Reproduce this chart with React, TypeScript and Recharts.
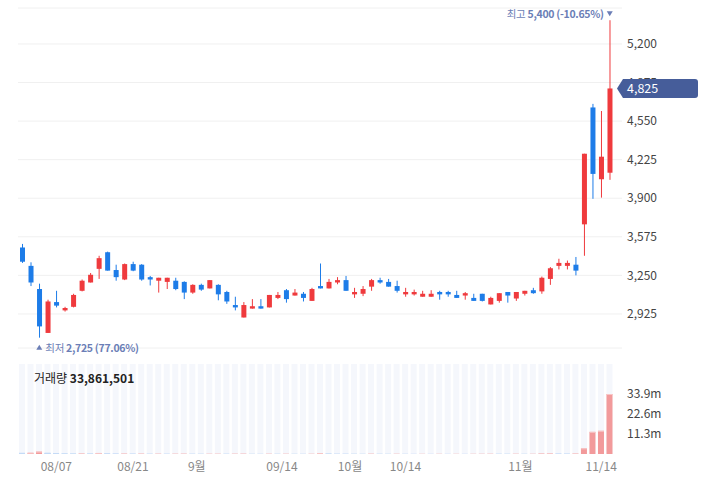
import { Bar, BarChart, CartesianGrid, ComposedChart, ReferenceDot, ReferenceLine, XAxis, YAxis } from "recharts";

// trading days 2024-08-01 .. 2024-11-15 (KRX)
const DATES = [
  "08/01", "08/02", "08/05", "08/06", "08/07", "08/08", "08/09", "08/12", "08/13", "08/14",
  "08/16", "08/19", "08/20", "08/21", "08/22", "08/23", "08/26", "08/27", "08/28", "08/29",
  "08/30", "09/02", "09/03", "09/04", "09/05", "09/06", "09/09", "09/10", "09/11", "09/12",
  "09/13", "09/19", "09/20", "09/23", "09/24", "09/25", "09/26", "09/27", "09/30", "10/02",
  "10/04", "10/07", "10/08", "10/10", "10/11", "10/14", "10/15", "10/16", "10/17", "10/18",
  "10/21", "10/22", "10/23", "10/24", "10/25", "10/28", "10/29", "10/30", "10/31", "11/01",
  "11/04", "11/05", "11/06", "11/07", "11/08", "11/11", "11/12", "11/13", "11/14", "11/15",
];

const OPEN = [
  3485, 3330, 3135, 2765, 3025, 2955, 2985, 3120, 3190, 3305,
  3445, 3295, 3215, 3345, 3340, 3235, 3205, 3195, 3205, 3195,
  3105, 3170, 3140, 3170, 3110, 3000, 2895, 2970, 2990, 2980,
  3060, 3125, 3080, 3095, 3035, 3160, 3140, 3190, 3210, 3090,
  3095, 3155, 3210, 3195, 3160, 3090, 3090, 3070, 3070, 3110,
  3110, 3085, 3080, 3060, 3095, 3005, 3035, 3110, 3055, 3095,
  3125, 3115, 3220, 3330, 3330, 3340, 3680, 4665, 4060, 4115,
];
const HIGH = [
  3515, 3360, 3180, 3045, 3120, 2985, 3095, 3215, 3270, 3415,
  3450, 3340, 3350, 3365, 3345, 3245, 3230, 3230, 3230, 3200,
  3175, 3180, 3210, 3175, 3120, 3070, 3025, 3050, 3050, 3085,
  3110, 3135, 3135, 3110, 3145, 3350, 3220, 3235, 3245, 3145,
  3160, 3220, 3230, 3220, 3205, 3145, 3130, 3120, 3125, 3120,
  3120, 3120, 3110, 3095, 3095, 3070, 3100, 3110, 3110, 3120,
  3145, 3240, 3320, 3390, 3375, 3405, 4275, 4695, 4635, 5400,
];
const LOW = [
  3355, 3160, 2725, 2765, 2980, 2945, 2980, 3115, 3190, 3220,
  3290, 3205, 3210, 3285, 3205, 3165, 3105, 3135, 3125, 3050,
  3095, 3120, 3140, 3040, 3010, 2955, 2895, 2970, 2970, 2980,
  3050, 3020, 3080, 3030, 3035, 3140, 3140, 3175, 3120, 3060,
  3075, 3120, 3180, 3155, 3105, 3070, 3080, 3070, 3070, 3045,
  3070, 3060, 3045, 3035, 3030, 3005, 3020, 3020, 3035, 3080,
  3095, 3095, 3170, 3300, 3300, 3250, 3415, 3895, 3905, 4055,
];
const CLOSE = [
  3365, 3190, 2820, 3030, 2995, 2975, 3085, 3205, 3255, 3395,
  3290, 3235, 3345, 3290, 3215, 3215, 3230, 3230, 3135, 3105,
  3170, 3130, 3210, 3090, 3030, 2980, 3000, 2990, 2970, 3085,
  3085, 3050, 3105, 3060, 3135, 3140, 3195, 3210, 3120, 3110,
  3135, 3210, 3190, 3155, 3120, 3110, 3110, 3095, 3095, 3090,
  3090, 3060, 3100, 3035, 3035, 3060, 3100, 3080, 3110, 3120,
  3100, 3230, 3310, 3355, 3355, 3290, 4275, 4105, 4250, 4825,
];
const VOLUME = [
  620000, 680000, 1350000, 640000, 520000, 240000, 200000, 230000, 210000, 580000,
  260000, 180000, 190000, 150000, 170000, 120000, 140000, 110000, 130000, 150000,
  100000, 90000, 110000, 120000, 100000, 130000, 150000, 80000, 70000, 120000,
  90000, 110000, 80000, 70000, 100000, 560000, 200000, 120000, 110000, 90000,
  80000, 130000, 90000, 80000, 100000, 70000, 60000, 70000, 60000, 80000,
  60000, 70000, 60000, 80000, 90000, 110000, 100000, 90000, 110000, 80000,
  90000, 230000, 260000, 180000, 150000, 210000, 3200000, 12500000, 13100000, 33861501,
];

const PRICE_TICKS = [2925, 3250, 3575, 3900, 4225, 4550, 4875, 5200];
const X_TICK_DATES = ["08/07", "08/21", "09/01", "09/14", "10/01", "10/14", "11/01", "11/14"];
const X_TICK_LABELS = ["08/07", "08/21", "9월", "09/14", "10월", "10/14", "11월", "11/14"];

const UP = "#ef3a3d";
const DOWN = "#1d7ce8";
const VOL_UP = "#f29a9b";
const VOL_UP_CAP = "#f8c6c6";
const VOL_DOWN = "#9ec5f1";
const VOL_DOWN_CAP = "#c8ddf7";
const MARK = "#6b7eb6";

const rows = DATES.map((date, i) => ({
  i,
  date,
  open: OPEN[i],
  close: CLOSE[i],
  range: [LOW[i], HIGH[i]],
  volume: VOLUME[i],
}));

const LAST = DATES.length - 1;
const LAST_CLOSE = CLOSE[LAST];
const HIGH_MAX = Math.max(...HIGH);
const LOW_MIN = Math.min(...LOW);
const HIGH_IDX = HIGH.indexOf(HIGH_MAX);
const LOW_IDX = LOW.indexOf(LOW_MIN);
const VOL_MAX = Math.max(...VOLUME);
const PRICE_DOMAIN = [LOW_MIN - 87, HIGH_MAX + 103];
const X_DOMAIN = [-0.5, LAST + 0.5];

// month labels sit on the boundary between months, other dates on their own candle
const X_TICK_POS = X_TICK_DATES.map((d, k) => {
  const next = DATES.findIndex((x) => x >= d);
  const isMonth = X_TICK_LABELS[k].endsWith("월");
  return DATES[next] === d && !isMonth ? next : next - 0.5;
});

const fmt = (v: number) => v.toLocaleString("en-US");

function Candle(props: any) {
  const { x, y, width, height, index } = props;
  const o = OPEN[index];
  const c = CLOSE[index];
  const h = HIGH[index];
  const l = LOW[index];
  const top = Math.min(y, y + height);
  const span = Math.abs(height);
  const k = span / (h - l || 1);
  const yOf = (v: number) => top + (h - v) * k;
  const bodyTop = yOf(Math.max(o, c));
  const bodyBot = yOf(Math.min(o, c));
  const color = c >= o ? UP : DOWN;
  const cx = x + width / 2;
  return (
    <g>
      <line x1={cx} x2={cx} y1={top} y2={top + span} stroke={color} strokeWidth={1} />
      <rect x={x} y={bodyTop} width={width} height={Math.max(1, bodyBot - bodyTop)} fill={color} />
    </g>
  );
}

function VolumeBar(props: any) {
  const { x, y, width, height, index } = props;
  if (!(height > 0)) return null;
  const up = index === 0 ? CLOSE[0] >= OPEN[0] : VOLUME[index] >= VOLUME[index - 1];
  return (
    <g>
      <rect x={x} y={y} width={width} height={height} fill={up ? VOL_UP : VOL_DOWN} />
      <rect x={x} y={y} width={width} height={Math.min(1, height)} fill={up ? VOL_UP_CAP : VOL_DOWN_CAP} />
    </g>
  );
}

function HighMark(props: any) {
  const { cx, cy } = props;
  const pct = ((LAST_CLOSE / HIGH_MAX - 1) * 100).toFixed(2);
  return (
    <g>
      <text x={cx - 6} y={cy - 2.5} textAnchor="end" fontSize={10.5} letterSpacing={-0.3} fill={MARK}>
        <tspan>최고 </tspan>
        <tspan fontWeight="bold">{fmt(HIGH_MAX)} ({pct}%)</tspan>
      </text>
      <path d={`M${cx - 3},${cy - 9} L${cx + 3},${cy - 9} L${cx},${cy - 4} Z`} fill={MARK} />
    </g>
  );
}

function LowMark(props: any) {
  const { cx, cy } = props;
  const pct = ((LAST_CLOSE / LOW_MIN - 1) * 100).toFixed(2);
  return (
    <g>
      <path d={`M${cx - 3},${cy + 12} L${cx + 3},${cy + 12} L${cx},${cy + 7} Z`} fill={MARK} />
      <text x={cx + 6} y={cy + 14} textAnchor="start" fontSize={10.5} letterSpacing={-0.3} fill={MARK}>
        <tspan>최저 </tspan>
        <tspan fontWeight="bold">{fmt(LOW_MIN)} ({pct}%)</tspan>
      </text>
    </g>
  );
}

function PriceBadge(props: any) {
  const { viewBox } = props;
  const right = viewBox.x + viewBox.width;
  const y = viewBox.y;
  const h = 9.5;
  const w = 76;
  const r = 3;
  const d = `M${right - 5},${y} L${right + 1},${y - h} L${right + w - r},${y - h} Q${right + w},${y - h} ${right + w},${y - h + r} L${right + w},${y + h - r} Q${right + w},${y + h} ${right + w - r},${y + h} L${right + 1},${y + h} Z`;
  return (
    <g>
      <path d={d} fill="#465d9a" />
      <text x={right + 5} y={y + 4.5} fontSize={12.5} fill="#fff">
        {fmt(LAST_CLOSE)}
      </text>
    </g>
  );
}

const PRICE_MARGIN = { top: 8, right: 0, bottom: 12, left: 18 };

export default function App() {
  return (
    <div
      style={{
        position: "absolute",
        left: 0,
        top: 0,
        width: 705,
        height: 482,
        background: "#fff",
        fontFamily: "'Noto Sans CJK KR', 'Noto Sans', sans-serif",
      }}
    >
      <div style={{ position: "absolute", left: 0, top: 0 }}>
        <ComposedChart width={705} height={360} data={rows} margin={PRICE_MARGIN}>
          <CartesianGrid vertical={false} stroke="#f0f0f0" />
          <XAxis dataKey="i" type="number" domain={X_DOMAIN} padding={{ left: 0, right: 8 }} allowDataOverflow hide />
          <YAxis
            orientation="right"
            width={83}
            domain={PRICE_DOMAIN}
            ticks={PRICE_TICKS}
            tickFormatter={fmt}
            allowDataOverflow
            axisLine={false}
            tickLine={false}
            tickSize={3}
            tickMargin={2}
            tick={{ fontSize: 12, fill: "#444" }}
          />
          <Bar dataKey="range" barSize={5} shape={Candle} isAnimationActive={false} />
          <ReferenceDot x={HIGH_IDX} y={HIGH_MAX} r={0} shape={HighMark} />
          <ReferenceDot x={LOW_IDX} y={LOW_MIN} r={0} shape={LowMark} />
        </ComposedChart>
      </div>
      {/* current price badge, layered above the price axis labels */}
      <div style={{ position: "absolute", left: 0, top: 0, pointerEvents: "none" }}>
        <ComposedChart width={705} height={360} data={rows} margin={PRICE_MARGIN}>
          <XAxis dataKey="i" type="number" domain={X_DOMAIN} padding={{ left: 0, right: 8 }} allowDataOverflow hide />
          <YAxis orientation="right" width={83} domain={PRICE_DOMAIN} allowDataOverflow axisLine={false} tickLine={false} tick={false} />
          <ReferenceLine y={LAST_CLOSE} stroke="transparent" label={PriceBadge} />
        </ComposedChart>
      </div>
      <div style={{ position: "absolute", left: 0, top: 360 }}>
        <BarChart width={705} height={118} data={rows} margin={{ top: 4, right: 0, bottom: 0, left: 18 }}>
          <XAxis
            dataKey="i"
            type="number"
            domain={X_DOMAIN}
            padding={{ left: 0, right: 8 }}
            allowDataOverflow
            ticks={X_TICK_POS}
            interval={0}
            tickFormatter={(v: number) => X_TICK_LABELS[X_TICK_POS.indexOf(v)] ?? ""}
            axisLine={false}
            tickLine={false}
            height={24}
            tick={{ fontSize: 12, fill: "#888" }}
          />
          <YAxis
            orientation="right"
            width={83}
            domain={[0, VOL_MAX * 1.5]}
            ticks={[VOL_MAX / 3, (VOL_MAX * 2) / 3, VOL_MAX]}
            tickFormatter={(v: number) => (v / 1e6).toFixed(1) + "m"}
            allowDataOverflow
            axisLine={false}
            tickLine={false}
            tickSize={3}
            tickMargin={2}
            tick={{ fontSize: 12, fill: "#444" }}
          />
          <Bar dataKey="volume" barSize={6} background={{ fill: "#f5f7fc" }} shape={VolumeBar} isAnimationActive={false} />
        </BarChart>
      </div>
      <div style={{ position: "absolute", left: 34, top: 370, fontSize: 12, lineHeight: "16px", color: "#222" }}>
        거래량 <b>{fmt(VOLUME[LAST])}</b>
      </div>
    </div>
  );
}
